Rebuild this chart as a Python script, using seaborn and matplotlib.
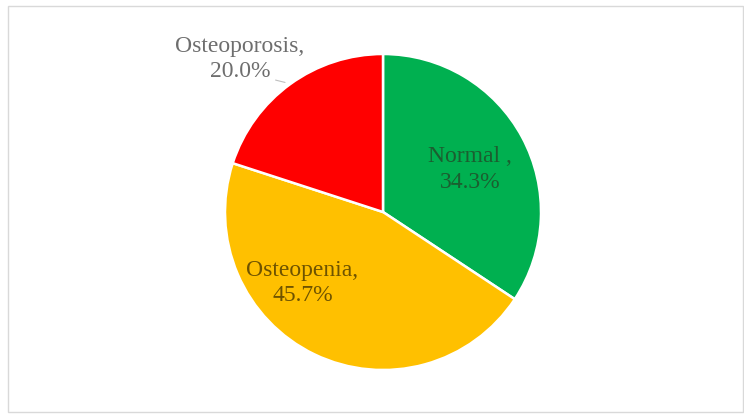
import matplotlib
matplotlib.use("Agg")
import matplotlib.pyplot as plt
import seaborn as sns
from matplotlib.patches import Rectangle

categories = ["Normal", "Osteopenia", "Osteoporosis"]
values = [34.3, 45.7, 20.0]
label_texts = ["Normal ,\n34.3%", "Osteopenia,\n45.7%", "Osteoporosis,\n20.0%"]
colors = ["#00B050", "#FFC000", "#FF0000"]
text_colors = ["#1B5E30", "#6E5300", "#6E6E6E"]

sns.set_theme(style="white")
plt.rcParams["font.family"] = ["Liberation Serif", "DejaVu Serif"]

W, H = 744, 417
fig = plt.figure(figsize=(W / 100, H / 100), dpi=100)
fig.patch.set_facecolor("white")

cx, cy, r = 383, 212, 158
ax = fig.add_axes([(cx - r) / W, (H - cy - r) / H, 2 * r / W, 2 * r / H])
wedges, _ = ax.pie(values, colors=colors, startangle=90, counterclock=False,
                   radius=1, wedgeprops=dict(edgecolor="white", linewidth=1.8))
ax.set_xlim(-1, 1)
ax.set_ylim(-1, 1)
ax.set_aspect("equal")
ax.axis("off")

positions = [(0.55, 0.27), (-0.51, -0.45), (-0.905, 0.97)]
for txt, (x, y), c in zip(label_texts, positions, text_colors):
    ax.text(x, y, txt, ha="center", va="center", fontsize=17, color=c,
            linespacing=1.27, clip_on=False)
# small leader line for outside label
ax.plot([-0.68, -0.62], [0.835, 0.82], color="#BFBFBF", lw=0.8, clip_on=False)

fig.patches.append(Rectangle((8 / W, 5 / H), (W - 9) / W, (H - 11) / H,
                             transform=fig.transFigure, fill=False,
                             edgecolor="#D9D9D9", linewidth=1))
fig.savefig("out.png", dpi=100, facecolor="white")
